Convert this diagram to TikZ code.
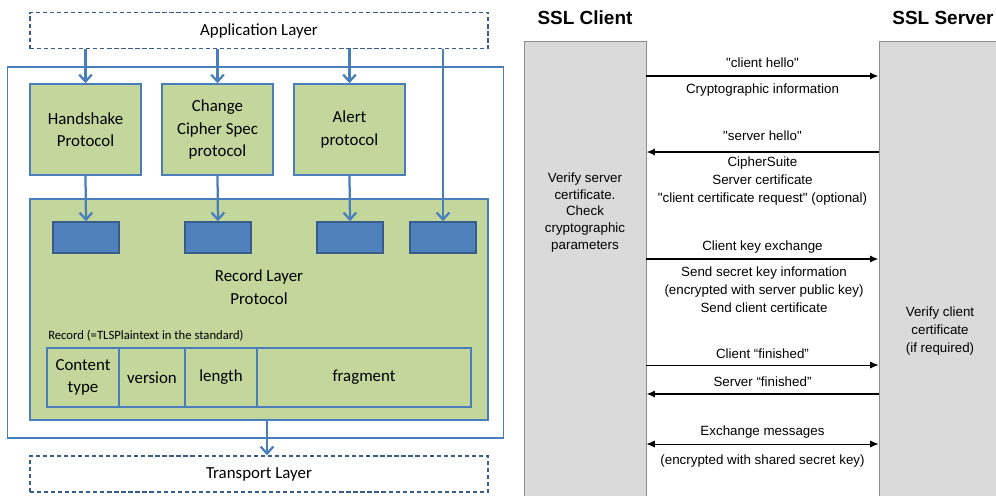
\documentclass[tikz,border=0pt]{standalone}
\usepackage{fontspec}
\setmainfont{Carlito}
\newfontfamily\arialfont{Liberation Sans}
\usetikzlibrary{arrows.meta}
\definecolor{recgreen}{HTML}{C3D69B}
\definecolor{boxblue}{HTML}{4A7EBB}
\definecolor{darkblue}{HTML}{385D8A}
\definecolor{fillblue}{HTML}{4F81BD}
\definecolor{barfill}{HTML}{DADADA}
\definecolor{barline}{HTML}{8C8C8C}
\begin{document}
\begin{tikzpicture}[x=0.025cm, y=-0.025cm,
    layer/.style={draw=darkblue, dashed, line width=1pt, dash pattern=on 3pt off 2pt, font=\fontsize{12}{14}\selectfont, minimum width=11.45cm, minimum height=0.9cm, inner sep=0pt},
    proto/.style={draw=boxblue, line width=1pt, fill=recgreen, align=center, font=\fontsize{12}{16}\selectfont, minimum width=2.775cm, minimum height=2.275cm, inner sep=0pt},
    slot/.style={draw=darkblue, line width=1pt, fill=fillblue, minimum width=1.65cm, minimum height=0.775cm, inner sep=0pt},
    field/.style={draw=boxblue, line width=1pt, align=center, font=\fontsize{12}{16}\selectfont, minimum height=1.475cm, inner sep=0pt},
    arr/.style={draw=boxblue, line width=1.6pt, -{Straight Barb[length=5pt,width=9pt,line width=1.6pt]}},
    bar/.style={draw=barline, line width=0.5pt, fill=barfill, inner sep=0pt},
    msg/.style={font=\arialfont\fontsize{9.5}{12.8}\selectfont, align=center, inner sep=0pt},
    thick msg/.style={line width=1.4pt, -{Latex[length=6pt,width=5pt]}},
    thin msg/.style={line width=0.7pt, -{Latex[length=6pt,width=5pt]}}]
  \useasboundingbox (0,0) rectangle (996,495);
  % left: TLS layers
  \node[draw=boxblue, line width=0.8pt, minimum width=12.375cm, minimum height=9.275cm, inner sep=0pt] (tls) at (255.5,252.5) {};
  \node[layer] (app) at (259,30.5) {Application Layer};
  \node[layer] (tl) at (259,474) {Transport Layer};
  \node[proto] (hs) at (85.5,129.5) {Handshake\\Protocol};
  \node[proto] (ccs) at (217.5,129.5) {Change\\Cipher Spec\\protocol};
  \node[proto] (alert) at (349.5,129.5) {Alert\\protocol};
  \node[draw=boxblue, line width=1pt, fill=recgreen, minimum width=11.45cm, minimum height=5.525cm, inner sep=0pt] (rec) at (259,309.5) {};
  \node[slot] (s1) at (86,237.5) {};
  \node[slot] (s2) at (218,237.5) {};
  \node[slot] (s3) at (350,237.5) {};
  \node[slot] (s4) at (443,237.5) {};
  \node[align=center, font=\fontsize{12}{16}\selectfont] (rlp) at (259,287) {Record Layer\\Protocol};
  \node[anchor=west, font=\fontsize{9}{11}\selectfont, inner sep=0pt] (rl) at (48,336) {Record (=TLSPlaintext in the standard)};
  \node[field, minimum width=1.8cm] (ct) at (83,377.5) {Content\\type};
  \node[field, minimum width=1.65cm] (ver) at (152,377.5) {version};
  \node[field, minimum width=1.8cm] (len) at (221,377.5) {length};
  \node[field, minimum width=5.35cm] (frag) at (364,377.5) {fragment};
  \draw[arr] (hs |- app.south) -- (hs.north);
  \draw[arr] (ccs |- app.south) -- (ccs.north);
  \draw[arr] (alert |- app.south) -- (alert.north);
  \draw[arr] (s4 |- app.south) -- (s4.north);
  \draw[arr] (hs.south) -- (s1.north);
  \draw[arr] (ccs.south) -- (s2.north);
  \draw[arr] (alert.south) -- (s3.north);
  \draw[arr] ([xshift=0.2cm]rec.south) -- ([xshift=0.2cm]tl.north);
  % right: SSL handshake
  \node[font=\arialfont\bfseries\fontsize{13.5}{16}\selectfont] (ct1) at (585,18) {SSL Client};
  \node[font=\arialfont\bfseries\fontsize{13.5}{16}\selectfont] (st1) at (943,18) {SSL Server};
  \node[bar, minimum width=3.05cm, minimum height=11.5cm] (client) at (585,271) {};
  \node[bar, minimum width=3.05cm, minimum height=11.5cm] (server) at (940,271) {};
  \node[msg, font=\arialfont\fontsize{9.5}{11.8}\selectfont] (cv) at (585,212.5) {Verify server\\certificate.\\Check\\cryptographic\\parameters};
  \node[msg, font=\arialfont\fontsize{9.5}{12.8}\selectfont] (sv) at (940,331) {Verify client\\certificate\\(if required)};
  \node[msg] (m1) at (762.5,63) {"client hello"};
  \node[msg] (m1b) at (762.5,90) {Cryptographic information};
  \node[msg] (m2) at (762.5,136) {"server hello"};
  \node[msg] (m2b) at (762.5,181) {CipherSuite\\Server certificate\\"client certificate request" (optional)};
  \node[msg] (m3) at (762.5,247) {Client key exchange};
  \node[msg] (m3b) at (764,290) {Send secret key information\\(encrypted with server public key)\\Send client certificate};
  \node[msg] (m4) at (762.5,354) {Client “finished”};
  \node[msg] (m5) at (762.5,382) {Server “finished”};
  \node[msg] (m6) at (762.5,432) {Exchange messages};
  \node[msg] (m6b) at (762.5,461) {(encrypted with shared secret key)};
  \draw[thick msg] (client.east |- 0,76) -- (server.west |- 0,76);
  \draw[thick msg] (server.west |- 0,152) -- (client.east |- 0,152);
  \draw[thick msg] (client.east |- 0,259) -- (server.west |- 0,259);
  \draw[thin msg] (client.east |- 0,365) -- (server.west |- 0,365);
  \draw[thick msg] (server.west |- 0,394) -- (client.east |- 0,394);
  \draw[line width=0.7pt, {Latex[length=6pt,width=5pt]}-{Latex[length=6pt,width=5pt]}] (client.east |- 0,444) -- (server.west |- 0,444);
\end{tikzpicture}
\end{document}
